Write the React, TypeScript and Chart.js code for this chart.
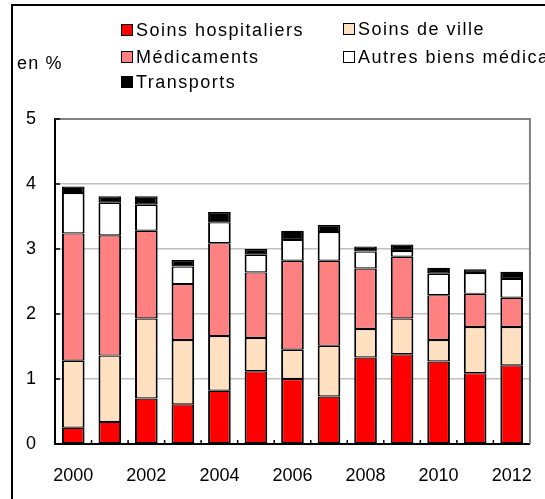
import React, { useEffect, useRef } from "react";
import { Chart, registerables } from "chart.js";

Chart.register(...registerables);

const years = ["2000", "2001", "2002", "2003", "2004", "2005", "2006", "2007", "2008", "2009", "2010", "2011", "2012"];
const soinsHospitaliers = [0.25, 0.34, 0.7, 0.61, 0.82, 1.12, 1.0, 0.73, 1.33, 1.38, 1.27, 1.09, 1.21];
const soinsDeVille = [1.03, 1.02, 1.23, 0.99, 0.84, 0.51, 0.45, 0.78, 0.44, 0.55, 0.33, 0.71, 0.59];
const medicaments = [1.96, 1.85, 1.35, 0.86, 1.43, 1.01, 1.37, 1.31, 0.93, 0.95, 0.69, 0.51, 0.45];
const autresBiens = [0.62, 0.5, 0.4, 0.27, 0.32, 0.27, 0.32, 0.44, 0.26, 0.09, 0.33, 0.32, 0.29];
const transports = [0.1, 0.1, 0.13, 0.1, 0.16, 0.09, 0.14, 0.11, 0.08, 0.1, 0.09, 0.06, 0.11];
const yMin = 0;
const yMax = 5;
const yStep = 1;
const unitLabel = "en %";

const seriesNames = ["Soins hospitaliers", "Soins de ville", "Médicaments", "Autres biens médicaux", "Transports"];
const seriesColors = ["#FF0000", "#FFE0C0", "#FF8080", "#FFFFFF", "#000000"];
const seriesData = [soinsHospitaliers, soinsDeVille, medicaments, autresBiens, transports];

const FONT = "'Liberation Sans', Arial, sans-serif";

const decorPlugin = {
  id: "decor",
  beforeDatasetsDraw(chart: any) {
    const { ctx, chartArea } = chart;
    ctx.save();
    ctx.strokeStyle = "#808080";
    ctx.lineWidth = 2;
    ctx.beginPath();
    ctx.moveTo(chartArea.left, chartArea.top);
    ctx.lineTo(chartArea.right, chartArea.top);
    ctx.lineTo(chartArea.right, chartArea.bottom);
    ctx.stroke();
    ctx.restore();
  },
  afterDraw(chart: any) {
    const { ctx, chartArea, scales } = chart;
    ctx.save();
    ctx.strokeStyle = "#000000";
    ctx.lineWidth = 1.5;
    ctx.beginPath();
    const ys = scales.y;
    for (let v = yMin; v <= yMax; v += yStep) {
      const py = ys.getPixelForValue(v);
      ctx.moveTo(chartArea.left, py);
      ctx.lineTo(chartArea.left + 5, py);
    }
    const n = years.length;
    const w = (chartArea.right - chartArea.left) / n;
    for (let i = 1; i < n; i++) {
      const px = chartArea.left + i * w;
      ctx.moveTo(px, chartArea.bottom);
      ctx.lineTo(px, chartArea.bottom - 4);
    }
    ctx.stroke();
    ctx.restore();
  },
};

function LegendItem({ x, y, color, label }: { x: number; y: number; color: string; label: string }) {
  return (
    <div style={{ position: "absolute", left: x, top: y, whiteSpace: "nowrap", display: "flex", alignItems: "flex-start" }}>
      <div
        style={{
          width: 12,
          height: 12,
          boxSizing: "border-box",
          border: "1.5px solid #000",
          background: color,
          marginTop: 3,
          marginRight: 3,
          flex: "none",
        }}
      />
      <span style={{ font: `18px ${FONT}`, lineHeight: "18px", letterSpacing: "1.5px", color: "#000" }}>{label}</span>
    </div>
  );
}

export default function App() {
  const canvasRef = useRef<HTMLCanvasElement | null>(null);

  useEffect(() => {
    if (!canvasRef.current) return;
    const chart = new Chart(canvasRef.current, {
      type: "bar",
      data: {
        labels: years,
        datasets: seriesData.map((d, i) => ({
          label: seriesNames[i],
          data: d,
          backgroundColor: seriesColors[i],
          borderColor: "#000000",
          borderWidth: { top: 1.2, bottom: 1.2, left: 2, right: 2 },
          borderSkipped: false,
          categoryPercentage: 1,
          barPercentage: 0.62,
        })),
      },
      options: {
        animation: false,
        responsive: false,
        devicePixelRatio: 1,
        layout: { padding: { top: 119, left: 0, right: 8, bottom: 0 } },
        plugins: { legend: { display: false }, tooltip: { enabled: false } },
        scales: {
          x: {
            stacked: true,
            grid: { display: false },
            border: { display: true, color: "#000000", width: 2 },
            ticks: {
              autoSkip: false,
              maxRotation: 0,
              padding: 13,
              color: "#000000",
              font: { family: FONT, size: 18 },
              callback: (_v: any, i: number) => (i % 2 === 0 ? years[i] : ""),
            },
            afterFit: (s: any) => {
              s.height = 55;
            },
          },
          y: {
            stacked: true,
            min: yMin,
            max: yMax,
            ticks: {
              stepSize: yStep,
              padding: 19,
              color: "#000000",
              font: { family: FONT, size: 18 },
            },
            grid: {
              drawTicks: false,
              lineWidth: 1.5,
              color: (c: any) =>
                c.tick && (c.tick.value === yMax || c.tick.value === yMin) ? "rgba(0,0,0,0)" : "#C0C0C0",
            },
            border: { display: true, color: "#000000", width: 2 },
            afterFit: (s: any) => {
              s.width = 55;
            },
          },
        },
      },
      plugins: [decorPlugin],
    } as any);
    return () => chart.destroy();
  }, []);

  return (
    <div style={{ position: "fixed", left: 0, top: 0, width: 545, height: 499, overflow: "hidden", background: "#fff" }}>
      <div
        style={{
          position: "absolute",
          left: 11,
          top: 4,
          width: 700,
          height: 700,
          border: "2px solid #000",
          boxSizing: "border-box",
        }}
      />
      <canvas ref={canvasRef} width={545} height={499} style={{ position: "absolute", left: 0, top: 0, width: 545, height: 499 }} />
      <div
        style={{
          position: "absolute",
          left: 17,
          top: 54,
          font: `18px ${FONT}`,
          lineHeight: "18px",
          letterSpacing: "1.2px",
          whiteSpace: "nowrap",
        }}
      >
        {unitLabel}
      </div>
      <LegendItem x={121} y={21} color={seriesColors[0]} label={seriesNames[0]} />
      <LegendItem x={343} y={20} color={seriesColors[1]} label={seriesNames[1]} />
      <LegendItem x={121} y={47.5} color={seriesColors[2]} label={seriesNames[2]} />
      <LegendItem x={343} y={47.5} color={seriesColors[3]} label={seriesNames[3]} />
      <LegendItem x={121} y={73} color={seriesColors[4]} label={seriesNames[4]} />
    </div>
  );
}
